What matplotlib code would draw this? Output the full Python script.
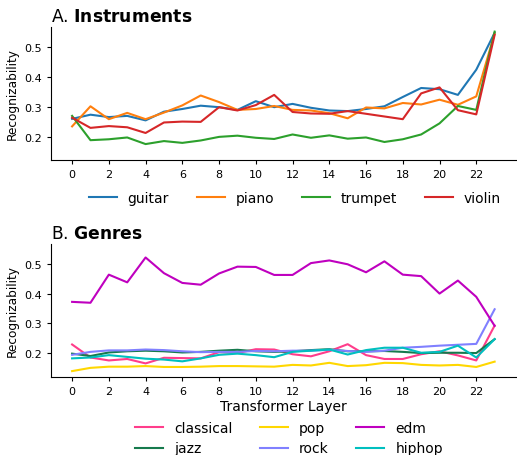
import numpy as np
import matplotlib
matplotlib.use("Agg")
import matplotlib.pyplot as plt

layers = list(range(24))

# panel A: instruments
guitar = [0.259, 0.273, 0.265, 0.269, 0.254, 0.283, 0.292, 0.303, 0.298, 0.289, 0.318, 0.298,
          0.309, 0.296, 0.287, 0.285, 0.292, 0.301, 0.332, 0.362, 0.358, 0.339, 0.423, 0.546]
piano = [0.234, 0.301, 0.258, 0.279, 0.258, 0.280, 0.304, 0.337, 0.315, 0.289, 0.292, 0.302,
         0.289, 0.287, 0.278, 0.261, 0.297, 0.294, 0.312, 0.307, 0.323, 0.306, 0.334, 0.544]
trumpet = [0.269, 0.188, 0.191, 0.197, 0.175, 0.185, 0.179, 0.187, 0.199, 0.203, 0.196, 0.192,
           0.207, 0.196, 0.204, 0.193, 0.197, 0.182, 0.191, 0.207, 0.244, 0.302, 0.289, 0.550]
violin = [0.263, 0.229, 0.235, 0.231, 0.212, 0.247, 0.250, 0.249, 0.298, 0.287, 0.305, 0.339,
          0.282, 0.277, 0.276, 0.285, 0.276, 0.267, 0.258, 0.344, 0.364, 0.288, 0.274, 0.539]

# panel B: genres
classical = [0.228, 0.184, 0.174, 0.179, 0.164, 0.183, 0.182, 0.181, 0.202, 0.199, 0.212, 0.211,
             0.195, 0.188, 0.205, 0.229, 0.192, 0.179, 0.179, 0.195, 0.205, 0.191, 0.174, 0.292]
jazz = [0.197, 0.189, 0.201, 0.205, 0.207, 0.205, 0.201, 0.203, 0.207, 0.210, 0.205, 0.203,
        0.205, 0.209, 0.212, 0.205, 0.205, 0.206, 0.203, 0.199, 0.200, 0.200, 0.199, 0.246]
pop = [0.138, 0.149, 0.153, 0.153, 0.155, 0.152, 0.152, 0.153, 0.155, 0.155, 0.154, 0.153,
       0.159, 0.157, 0.166, 0.155, 0.158, 0.166, 0.165, 0.159, 0.157, 0.159, 0.152, 0.170]
rock = [0.193, 0.203, 0.208, 0.208, 0.211, 0.209, 0.205, 0.202, 0.203, 0.203, 0.206, 0.205,
        0.207, 0.207, 0.210, 0.206, 0.203, 0.207, 0.217, 0.220, 0.224, 0.227, 0.230, 0.347]
edm = [0.372, 0.369, 0.464, 0.438, 0.522, 0.469, 0.436, 0.430, 0.468, 0.491, 0.490, 0.463,
       0.463, 0.503, 0.512, 0.499, 0.472, 0.509, 0.464, 0.459, 0.400, 0.444, 0.389, 0.291]
hiphop = [0.181, 0.184, 0.192, 0.186, 0.180, 0.177, 0.171, 0.181, 0.193, 0.197, 0.192, 0.185,
          0.203, 0.207, 0.211, 0.194, 0.209, 0.217, 0.217, 0.200, 0.203, 0.224, 0.184, 0.246]

instruments = {"guitar": guitar, "piano": piano, "trumpet": trumpet, "violin": violin}
inst_colors = ["#1f77b4", "#ff7f0e", "#2ca02c", "#d62728"]

genres = {"classical": classical, "jazz": jazz, "pop": pop,
          "rock": rock, "edm": edm, "hiphop": hiphop}
genre_colors = ["#ff3d8b", "#167a4d", "#ffd700", "#8080ff", "#bf00bf", "#00bfbf"]

fig = plt.figure(figsize=(5.17, 4.56), dpi=100)
ax1 = fig.add_axes([0.0986, 0.647, 0.899, 0.292])
ax2 = fig.add_axes([0.0986, 0.171, 0.899, 0.292])


def draw_panel(ax, title, series, colors, ylim):
    for (name, vals), c in zip(series.items(), colors):
        ax.plot(layers, vals, color=c, lw=1.5, label=name)
    ax.set_xlim(-1.15, 24.15)
    ax.set_ylim(*ylim)
    ax.set_xticks(range(0, 23, 2))
    ax.set_yticks([0.2, 0.3, 0.4, 0.5])
    ax.tick_params(labelsize=8, length=3)
    ax.spines["top"].set_visible(False)
    ax.spines["right"].set_visible(False)
    ax.set_ylabel("Recognizability", fontsize=8.7)
    ax.set_title(title, loc="left", fontsize=12.3, pad=4)


draw_panel(ax1, r"A. $\bf{Instruments}$", instruments, inst_colors, (0.122, 0.566))
draw_panel(ax2, r"B. $\bf{Genres}$", genres, genre_colors, (0.118, 0.568))

ax1.legend(loc="upper center", bbox_to_anchor=(0.525, -0.14), ncol=4, frameon=False,
           fontsize=10)
ax2.set_xlabel("Transformer Layer", fontsize=10, labelpad=2)
ax2.legend(loc="upper center", bbox_to_anchor=(0.512, -0.233), ncol=3, frameon=False,
           fontsize=10)

fig.savefig("out.png", dpi=100)
